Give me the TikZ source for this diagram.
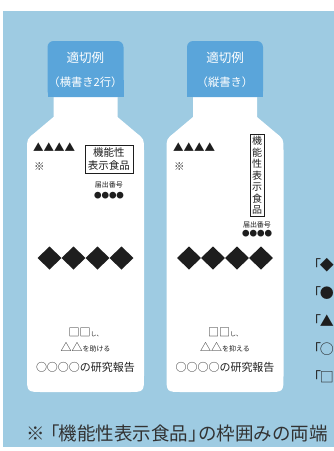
\documentclass[tikz,border=0pt]{standalone}
\usepackage{fontspec}
\setmainfont{Noto Sans CJK JP}
\usetikzlibrary{positioning}

\begin{document}
\begin{tikzpicture}[x=1pt, y=-1pt, inner sep=0pt, text=inkblack,
    captext/.style={text=white, font=\fontsize{11.3}{13}\selectfont},
    symrow/.style={font=\fontsize{10.5}{12}\selectfont},
    namebox/.style={draw=inkblack, line width=0.8pt, align=center, inner sep=3pt, font=\fontsize{10.5}{12.5}\selectfont},
    smalltext/.style={font=\fontsize{7}{8}\selectfont},
    dotrow/.style={font=\fontsize{7.5}{8}\selectfont},
    claimtext/.style={font=\fontsize{11}{12}\selectfont},
    notetext/.style={anchor=west, font=\fontsize{14}{16}\selectfont}]
        % Define colors
        \definecolor{bgblue}{RGB}{158,203,226}
        \definecolor{capblue}{RGB}{90,165,218}
        \definecolor{inkblack}{RGB}{30,30,30}
        \definecolor{inkgray}{RGB}{50,50,50}

        \useasboundingbox (0,0) rectangle (334,451);
        \clip (0,0) rectangle (334,451);
        \fill[bgblue] (3,11) rectangle (334,447);

        % Bottles, caps and diamonds
        \foreach \cx in {85.5, 225} {
            \fill[white] ({\cx-32},90) -- ({\cx-32},117) -- ({\cx-51},133)
                .. controls ({\cx-58.5},139) .. ({\cx-58.5},150) -- ({\cx-58.5},376)
                .. controls ({\cx-58.5},392) .. ({\cx-42.5},392) -- ({\cx+42.5},392)
                .. controls ({\cx+58.5},392) .. ({\cx+58.5},376) -- ({\cx+58.5},150)
                .. controls ({\cx+58.5},139) .. ({\cx+51},133) -- ({\cx+32},117)
                -- ({\cx+32},90) -- cycle;
            \fill[capblue, rounded corners=6pt] ({\cx-38},41) rectangle ({\cx+38},97);
            \fill[capblue] ({\cx-38},80) rectangle ({\cx+38},97);
            \foreach \dx in {-36,-12,12,36} {
                \fill[inkblack] ({\cx+\dx-12},258) -- ({\cx+\dx},246.5) -- ({\cx+\dx+12},258) -- ({\cx+\dx},269.5) -- cycle;
            }
        }

        % Left bottle
        \node[captext, font=\fontsize{12.5}{14}\selectfont] (capA1) at (85.5,58) {適切例};
        \node[captext] (capB1) at (85.5,82) {（横書き2行）};
        \node[symrow, anchor=west] (tri1) at (33,147) {▲▲▲▲};
        \node[symrow, anchor=west] (kome1) at (34,167) {※};
        \node[namebox] (box1) at (109,159) {機能性\\表示食品};
        \node[smalltext] (todoke1) at (109,185) {届出番号};
        \node[dotrow] (num1) at (109,196) {●●●●};
        \node[claimtext] (claimA1) at (85.5,332) {□□{\fontsize{6}{7}\selectfont し、}};
        \node[claimtext] (claimB1) at (85.5,347) {△△{\fontsize{7}{8}\selectfont を助ける}};
        \node[claimtext] (study1) at (85.5,367) {○○○○の研究報告};

        % Right bottle
        \node[captext, font=\fontsize{12.5}{14}\selectfont] (capA2) at (225,58) {適切例};
        \node[captext] (capB2) at (225,82) {（縦書き）};
        \node[symrow, anchor=west] (tri2) at (173,147) {▲▲▲▲};
        \node[symrow, anchor=west] (kome2) at (174,167) {※};
        \node[namebox, inner sep=2pt, font=\fontsize{10}{11.5}\selectfont] (box2) at (257,175.5) {機\\能\\性\\表\\示\\食\\品};
        \node[smalltext] (todoke2) at (257,225) {届出番号};
        \node[dotrow] (num2) at (257,234) {●●●●};
        \node[claimtext] (claimA2) at (225,332) {□□{\fontsize{6}{7}\selectfont し、}};
        \node[claimtext] (claimB2) at (225,347) {△△{\fontsize{7}{8}\selectfont を抑える}};
        \node[claimtext] (study2) at (225,367) {○○○○の研究報告};

        % Notes on the right
        \foreach \y/\s in {265/◆, 293/●, 321/▲, 349/○, 377/□} {
            \node[notetext] (note\y) at (307,\y) {「\hspace{-0.1em}\s};
        }

        \node[anchor=west, text=inkgray, font=\fontsize{18.5}{20}\selectfont] (footnote) at (26,433)
            {※\hspace{-0.2em}「\hspace{-0.05em}機能性表示食品」\hspace{-0.45em}の枠囲みの両端};
    \end{tikzpicture}
\end{document}
